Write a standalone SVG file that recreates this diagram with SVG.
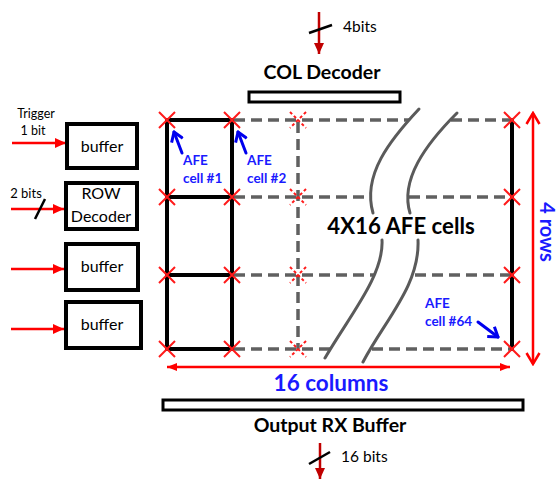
<svg xmlns="http://www.w3.org/2000/svg" width="559" height="479" viewBox="0 0 559 479">
<style>
.box{fill:#fff;stroke:#000;stroke-width:4}
.bar{fill:#fff;stroke:#000;stroke-width:3}
.solid{stroke:#000;stroke-width:4;fill:none;stroke-linecap:square}
.dash{stroke:#606060;stroke-width:3.5;fill:none;stroke-dasharray:11,6}
.curve{stroke:#5a5a5a;stroke-width:3;fill:none;stroke-linecap:round}
.x{stroke:#ff1a1a;stroke-width:2;fill:none}
.xd{stroke:#ff1a1a;stroke-width:2;fill:none;stroke-dasharray:3,2.5}
.red{stroke:#ff0000;stroke-width:2.5;fill:none}
.dred{stroke:#c00000;stroke-width:2.5;fill:none}
.blue{stroke:#0000ee;stroke-width:3;fill:none;stroke-linecap:round;stroke-linejoin:round}
.slash{stroke:#000;stroke-width:2.5}
.t{font-family:Lato,"Liberation Sans",sans-serif;fill:#000}
.tb{font-family:Lato,"Liberation Sans",sans-serif;font-weight:bold;fill:#000}
.bl{font-family:Lato,"Liberation Sans",sans-serif;font-weight:bold;fill:#1a1aff}
</style>
<defs>
<marker id="ar" markerUnits="userSpaceOnUse" markerWidth="12" markerHeight="12" refX="11" refY="6" orient="auto"><path d="M0,1 L11,6 L0,11 Z" fill="#ff0000"/></marker>
<marker id="ars" markerUnits="userSpaceOnUse" markerWidth="12" markerHeight="12" refX="10" refY="6" orient="auto-start-reverse"><path d="M0,2 L10,6 L0,10 Z" fill="#ff0000"/></marker>
<marker id="ard" markerUnits="userSpaceOnUse" markerWidth="12" markerHeight="12" refX="11" refY="6" orient="auto"><path d="M0,1 L11,6 L0,11 Z" fill="#c00000"/></marker>
<marker id="arv" markerUnits="userSpaceOnUse" markerWidth="14" markerHeight="16" refX="12" refY="8" orient="auto-start-reverse"><path d="M1,1.5 L12,8 L1,14.5" fill="none" stroke="#ff0000" stroke-width="2.5"/></marker>
<marker id="ab" markerUnits="userSpaceOnUse" markerWidth="12" markerHeight="14" refX="10" refY="7" orient="auto"><path d="M1,1 L10,7 L1,13" fill="none" stroke="#0000ee" stroke-width="3" stroke-linejoin="round"/></marker>
</defs>

<g id="connectors">
  <line class="red" x1="12" y1="143" x2="66" y2="143" marker-end="url(#ar)"/>
  <line class="red" x1="11" y1="209" x2="64" y2="209" marker-end="url(#ar)"/>
  <line class="slash" x1="35" y1="219" x2="45" y2="199"/>
  <line class="red" x1="11" y1="269" x2="64" y2="269" marker-end="url(#ar)"/>
  <line class="red" x1="11" y1="329" x2="64" y2="329" marker-end="url(#ar)"/>
  <line class="dred" x1="319" y1="12" x2="319" y2="54" marker-end="url(#ard)"/>
  <line class="slash" x1="309" y1="33" x2="332" y2="25"/>
  <line class="dred" x1="320" y1="443" x2="320" y2="479" marker-end="url(#ard)"/>
  <line class="slash" x1="309" y1="464" x2="330" y2="452"/>
  <line class="red" x1="167" y1="367" x2="510" y2="367" marker-start="url(#ars)" marker-end="url(#ars)"/>
  <line class="red" x1="533" y1="113" x2="533" y2="364" marker-start="url(#arv)" marker-end="url(#arv)"/>
</g>

<g id="grid">
  <path class="dash" d="M234,120 H409 M451,120 H510 M234,197 H368 M409,197 H510 M234,275 H375 M415,275 H510 M234,349 H330 M372,349 H510"/>
  <line class="dash" x1="298" y1="122" x2="298" y2="349"/>
  <path class="curve" d="M419,109 C390,140 362,175 373,213"/>
  <path class="curve" d="M382,240 C384,275 350,315 325,358"/>
  <path class="curve" d="M457,113 C425,145 400,180 410,213"/>
  <path class="curve" d="M418,240 C420,285 385,320 363,362"/>
  <path class="solid" d="M167,120 V349 M232,120 V349 M167,120 H232 M167,197 H232 M167,275 H232 M167,349 H232 M512,120 V349"/>
  <path class="x" d="M159,112 l16,16 m0,-16 l-16,16 M224,112 l16,16 m0,-16 l-16,16 M504,112 l16,16 m0,-16 l-16,16
  M159,189 l16,16 m0,-16 l-16,16 M224,189 l16,16 m0,-16 l-16,16 M504,189 l16,16 m0,-16 l-16,16
  M159,267 l16,16 m0,-16 l-16,16 M224,267 l16,16 m0,-16 l-16,16 M504,267 l16,16 m0,-16 l-16,16
  M159,341 l16,16 m0,-16 l-16,16 M224,341 l16,16 m0,-16 l-16,16 M504,341 l16,16 m0,-16 l-16,16"/>
  <path class="xd" d="M290,112 l16,16 m0,-16 l-16,16 M290,189 l16,16 m0,-16 l-16,16 M290,267 l16,16 m0,-16 l-16,16 M290,341 l16,16 m0,-16 l-16,16"/>
</g>

<g id="buffer-trigger">
  <rect class="box" x="67" y="124" width="70" height="44"/>
  <text class="t" x="102" y="152" font-size="16" text-anchor="middle">buffer</text>
  <text class="t" x="36" y="118" font-size="12.5" text-anchor="middle">Trigger</text>
  <text class="t" x="33" y="135" font-size="12.5" text-anchor="middle">1 bit</text>
</g>
<g id="row-decoder">
  <rect class="box" x="66" y="183" width="71" height="46"/>
  <text class="t" x="101" y="199" font-size="16" text-anchor="middle">ROW</text>
  <text class="t" x="101" y="222" font-size="16" text-anchor="middle">Decoder</text>
  <text class="t" x="26" y="198" font-size="13" text-anchor="middle">2 bits</text>
</g>
<g id="buffer-3">
  <rect class="box" x="66" y="244" width="72" height="46"/>
  <text class="t" x="102" y="272" font-size="16" text-anchor="middle">buffer</text>
</g>
<g id="buffer-4">
  <rect class="box" x="66" y="302" width="75" height="46"/>
  <text class="t" x="102" y="330" font-size="16" text-anchor="middle">buffer</text>
</g>

<g id="col-decoder">
  <rect class="bar" x="249" y="92" width="151" height="10"/>
  <text class="tb" x="322" y="79" font-size="19.5" text-anchor="middle">COL Decoder</text>
  <text class="t" x="343" y="32" font-size="15.5">4bits</text>
</g>

<g id="output-rx-buffer">
  <rect class="bar" x="163" y="400" width="360" height="10"/>
  <text class="tb" x="330" y="432" font-size="19.5" text-anchor="middle">Output RX Buffer</text>
  <text class="t" x="341" y="462" font-size="15.5">16 bits</text>
</g>

<g id="afe-cells">
  <text class="tb" x="401" y="234" font-size="22.2" text-anchor="middle">4X16 AFE cells</text>
  <text class="bl" x="331" y="391" font-size="22.5" text-anchor="middle">16 columns</text>
  <text class="bl" transform="translate(540,232) rotate(90)" font-size="20" text-anchor="middle">4 rows</text>
  <text class="bl" x="183" y="165" font-size="13.5">AFE</text>
  <text class="bl" x="183" y="183" font-size="13.5">cell #1</text>
  <text class="bl" x="247" y="165" font-size="13.5">AFE</text>
  <text class="bl" x="247" y="183" font-size="13.5">cell #2</text>
  <text class="bl" x="425" y="308" font-size="13.5">AFE</text>
  <text class="bl" x="425" y="326" font-size="13.5">cell #64</text>
  <line class="blue" x1="182" y1="153" x2="174" y2="132" marker-end="url(#ab)"/>
  <line class="blue" x1="246" y1="153" x2="238" y2="132" marker-end="url(#ab)"/>
  <line class="blue" x1="478" y1="322" x2="498" y2="337" marker-end="url(#ab)"/>
</g>
</svg>
